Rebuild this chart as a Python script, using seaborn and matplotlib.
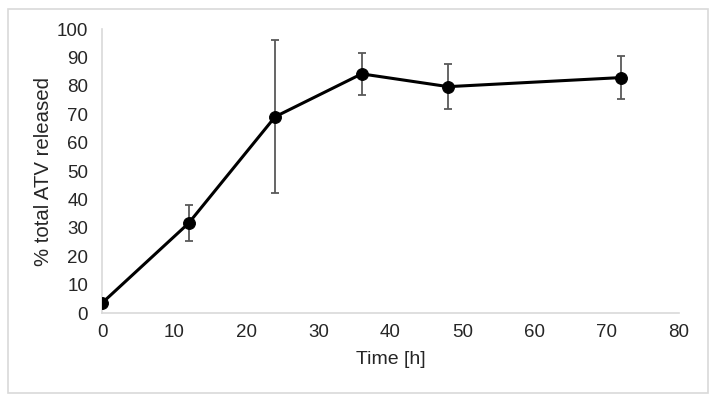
import matplotlib
matplotlib.use('Agg')
import matplotlib.pyplot as plt
import seaborn as sns
import pandas as pd
from matplotlib.patches import Rectangle

# Datos
tiempo = [0, 12, 24, 36, 48, 72]
liberado = [3.5, 31.6, 69.1, 84.2, 79.7, 82.9]
desviacion = [0, 6.3, 27.0, 7.5, 8.0, 7.6]

df = pd.DataFrame({'Time [h]': tiempo, 'liberado': liberado, 'sd': desviacion})

sns.set_style('white')
plt.rcParams['font.family'] = ['Liberation Sans', 'DejaVu Sans']

fig = plt.figure(figsize=(7.17, 4.0), dpi=100)
ax = fig.add_axes([0.1423, 0.2175, 0.8047, 0.71])

# Barras de error (gris)
ax.errorbar(df['Time [h]'], df['liberado'], yerr=df['sd'], fmt='none',
            ecolor='#595959', elinewidth=1.3, capsize=3, capthick=1.3, zorder=2)

# Línea con marcadores
sns.lineplot(data=df, x='Time [h]', y='liberado', ax=ax, color='black',
             linewidth=2.2, marker='o', markersize=8.5, markeredgecolor='black',
             zorder=3)

ax.set_xlim(0, 80)
ax.set_ylim(0, 100)
ax.set_xticks(range(0, 81, 10))
ax.set_yticks(range(0, 101, 10))
ax.tick_params(axis='both', length=0, labelsize=13.5)
ax.tick_params(axis='y', pad=10)
ax.tick_params(axis='x', pad=8)

ax.set_xlabel('Time [h]', fontsize=14, labelpad=7)
ax.set_ylabel('% total ATV released', fontsize=14.7, labelpad=3)

for s in ['top', 'right']:
    ax.spines[s].set_visible(False)
for s in ['left', 'bottom']:
    ax.spines[s].set_color('#d9d9d9')
    ax.spines[s].set_linewidth(1.2)
ax.spines['left'].set_zorder(0)

# Borde exterior del gráfico
fig.patches.append(Rectangle((8 / 717, 7 / 400), 700 / 717, 384 / 400,
                             transform=fig.transFigure, fill=False,
                             edgecolor='#d9d9d9', linewidth=1.2))

fig.savefig('out.png', dpi=100)
